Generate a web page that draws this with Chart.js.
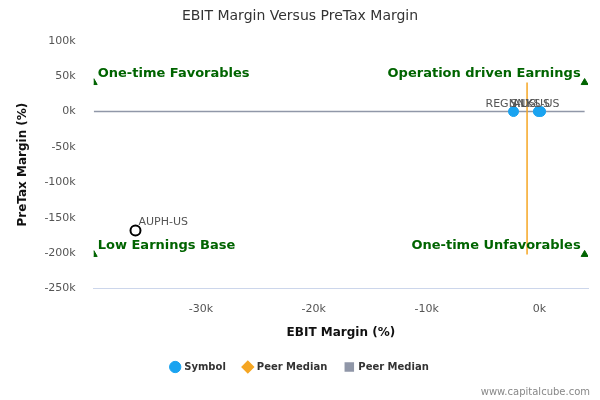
<!DOCTYPE html>
<html>
<head>
<script src="https://cdn.jsdelivr.net/npm/chart.js@4"></script>
<style>body{margin:0;background:#fff}#wrap{width:600px;height:400px}</style>
</head>
<body>
<div id="wrap"><canvas id="dataChart"></canvas></div>
<script>
// Data
const symbols = ['REGN-US', 'SNY-US', 'ALKS-US'];
const ebitMargin = [-2300, -100, 100];
const pretaxMargin = [0, 0, 0];
const outlierName = 'AUPH-US';
const outlierX = -35800, outlierY = -168000;
const peerMedianX = -1100;
const peerMedianY = 0;
const quadrantX = [-39500, 4000];
const quadrantY = [41000, -202000];
const quadrantLabels = ['One-time Favorables', 'Operation driven Earnings', 'Low Earnings Base', 'One-time Unfavorables'];
const xTicks = [-30000, -20000, -10000, 0];

const green = '#006400';

const ctx = document.getElementById('dataChart').getContext('2d');

const labelPlugin = {
    id: 'labels',
    afterDatasetsDraw(chart) {
        const c = chart.ctx, xs = chart.scales.x, ys = chart.scales.y;
        c.save();
        c.font = '11px "DejaVu Sans"';
        c.fillStyle = '#555';
        c.textAlign = 'left';
        c.textBaseline = 'bottom';
        symbols.forEach((s, i) => {
            c.fillText(s, xs.getPixelForValue(ebitMargin[i]) - 28, ys.getPixelForValue(pretaxMargin[i]) - 2);
        });
        c.fillText(outlierName, xs.getPixelForValue(outlierX) + 3, ys.getPixelForValue(outlierY) - 3);
        c.font = 'bold 13px "DejaVu Sans"';
        c.fillStyle = green;
        const pos = [[0, 0, 'left'], [1, 0, 'right'], [0, 1, 'left'], [1, 1, 'right']];
        pos.forEach((p, i) => {
            const x = xs.getPixelForValue(quadrantX[p[0]]) + (p[2] === 'left' ? 4 : -4);
            const y = ys.getPixelForValue(quadrantY[p[1]]) - 2;
            c.textAlign = p[2];
            c.fillText(quadrantLabels[i], x, y);
        });
        c.font = '10px "DejaVu Sans"';
        c.fillStyle = '#888';
        c.textAlign = 'right';
        c.fillText('www.capitalcube.com', 590, 397);
        c.restore();
    }
};

const dataChart = new Chart(ctx, {
    type: 'scatter',
    data: {
        datasets: [
            {
                label: 'Symbol',
                data: ebitMargin.map((v, i) => ({x: v, y: pretaxMargin[i]})),
                backgroundColor: '#1aa3f0',
                borderColor: '#1aa3f0',
                pointRadius: 5
            },
            {
                label: 'Peer Median',
                data: [{x: peerMedianX, y: quadrantY[0]}, {x: peerMedianX, y: quadrantY[1]}],
                showLine: true,
                borderColor: '#f5a623',
                backgroundColor: '#f5a623',
                borderWidth: 1.5,
                pointRadius: 0,
                pointStyle: 'rectRot'
            },
            {
                label: 'Peer Median',
                data: [{x: quadrantX[0], y: peerMedianY}, {x: quadrantX[1], y: peerMedianY}],
                showLine: true,
                borderColor: '#9097a8',
                backgroundColor: '#9097a8',
                borderWidth: 1.5,
                pointRadius: 0,
                pointStyle: 'rect'
            },
            {
                label: 'outlier',
                data: [{x: outlierX, y: outlierY}],
                backgroundColor: '#fff',
                borderColor: '#000',
                borderWidth: 2,
                pointRadius: 5
            },
            {
                label: 'quadrants',
                data: [
                    {x: quadrantX[0], y: quadrantY[0]}, {x: quadrantX[1], y: quadrantY[0]},
                    {x: quadrantX[0], y: quadrantY[1]}, {x: quadrantX[1], y: quadrantY[1]}
                ],
                pointStyle: 'triangle',
                backgroundColor: green,
                borderColor: green,
                pointRadius: 4
            }
        ]
    },
    options: {
        responsive: true,
        maintainAspectRatio: false,
        animation: false,
        layout: {padding: {left: 12, right: 12, top: 0, bottom: 18}},
        plugins: {
            title: {
                display: true,
                text: 'EBIT Margin Versus PreTax Margin',
                color: '#333',
                font: {family: 'DejaVu Sans', size: 14, weight: 'normal'},
                padding: {top: 8, bottom: 16}
            },
            legend: {
                position: 'bottom',
                labels: {
                    filter: item => item.text !== 'outlier' && item.text !== 'quadrants',
                    usePointStyle: true,
                    boxWidth: 8,
                    boxHeight: 8,
                    color: '#333',
                    font: {family: 'DejaVu Sans', size: 10, weight: 'bold'},
                    padding: 18
                }
            },
            tooltip: {enabled: false}
        },
        scales: {
            x: {
                min: -39500,
                max: 4300,
                afterBuildTicks: axis => { axis.ticks = xTicks.map(v => ({value: v})); },
                ticks: {color: '#555', font: {family: 'DejaVu Sans', size: 11},
                        callback: v => (v / 1000) + 'k', padding: 6},
                grid: {display: false},
                border: {color: '#ccd6eb'},
                title: {display: true, text: 'EBIT Margin (%)', color: '#111',
                        font: {family: 'DejaVu Sans', size: 12, weight: 'bold'}}
            },
            y: {
                min: -250000,
                max: 100000,
                ticks: {stepSize: 50000, color: '#555', font: {family: 'DejaVu Sans', size: 11},
                        callback: v => (v / 1000) + 'k', padding: 10},
                grid: {display: false},
                border: {display: false},
                title: {display: true, text: 'PreTax Margin (%)', color: '#111',
                        font: {family: 'DejaVu Sans', size: 12, weight: 'bold'}}
            }
        }
    },
    plugins: [labelPlugin]
});
</script>
</body>
</html>
